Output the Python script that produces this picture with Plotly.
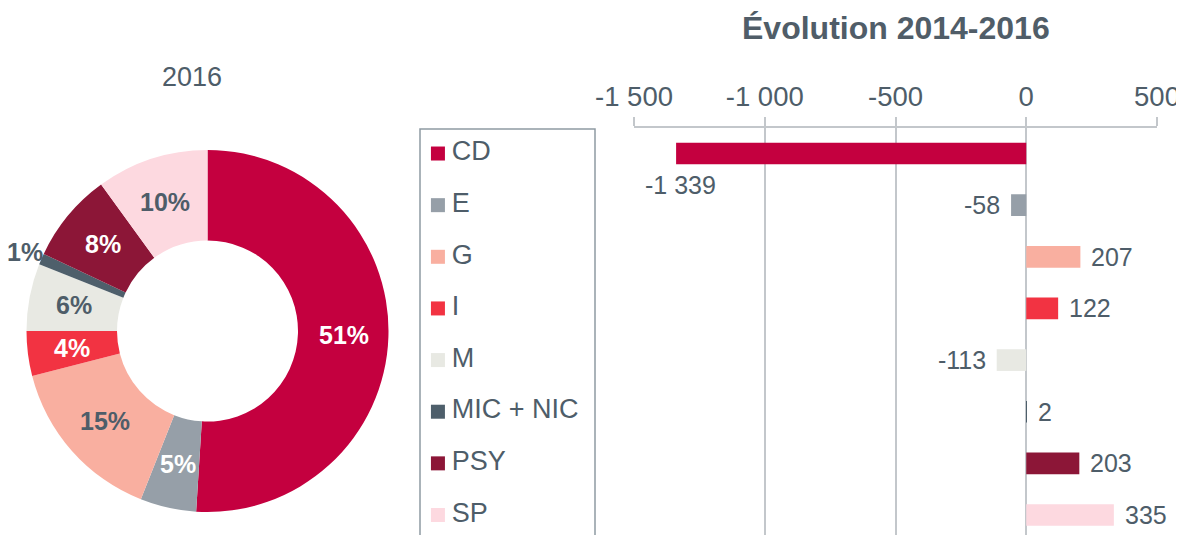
import math
import plotly.graph_objects as go

categories = ["CD", "E", "G", "I", "M", "MIC + NIC", "PSY", "SP"]
share_2016 = [51, 5, 15, 4, 6, 1, 8, 10]
evolution = [-1339, -58, 207, 122, -113, 2, 203, 335]
tick_vals = [-1500, -1000, -500, 0, 500]
tick_text = ["-1 500", "-1 000", "-500", "0", "500"]

colors = ["#C4003F", "#969FA8", "#F9AFA0", "#F23342", "#E8E9E3", "#4E5F6B", "#8C1637", "#FDD9E0"]
pie_text_colors = ["#FFFFFF", "#FFFFFF", "#4E5D69", "#FFFFFF", "#4E5D69", "#4E5D69", "#FFFFFF", "#4E5D69"]
pie_label_outside = [False, False, False, False, False, True, False, False]
TXT = "#4E5D69"
FONT = "Liberation Sans, Arial, sans-serif"

# the page body adds an 8px margin; size the figure so that it ends at the window edge
OFF = 8
W, H = 1184 - OFF, 535 - OFF

def px(x):
    return (x - OFF) / W

def py(y):
    return 1 - (y - OFF) / H

fig = go.Figure()

# donut geometry (screen pixels)
PIE_L, PIE_R, PIE_T, PIE_B = 26, 389, 150, 512
HOLE = 0.5
cx, cy = (PIE_L + PIE_R) / 2, (PIE_T + PIE_B) / 2
r_out = (PIE_R - PIE_L) / 2
r_mid = r_out * (1 + HOLE) / 2

fig.add_trace(go.Pie(
    labels=categories, values=share_2016, sort=False, direction="clockwise", rotation=0,
    hole=HOLE, marker=dict(colors=colors, line=dict(width=0)),
    textinfo="none",
    domain=dict(x=[px(PIE_L), px(PIE_R)], y=[py(PIE_B), py(PIE_T)]),
    showlegend=False, hoverinfo="label+value",
))

total = sum(share_2016)
cum = 0
for v, col, outside in zip(share_2016, pie_text_colors, pie_label_outside):
    theta = math.radians(360 * (cum + v / 2) / total)
    cum += v
    r = r_out + 17 if outside else r_mid
    x = cx + r * math.sin(theta)
    y = cy - r * math.cos(theta)
    fig.add_annotation(x=px(x), y=py(y), xref="paper", yref="paper", text=f"<b>{v}%</b>",
                       showarrow=False, xanchor="center", yanchor="middle",
                       font=dict(family=FONT, size=25, color=col))

# bars
fig.add_trace(go.Bar(
    y=categories, x=evolution, orientation="h", width=0.42,
    marker=dict(color=colors, line=dict(width=0)),
    xaxis="x", yaxis="y", showlegend=False,
))

# legend: markers and texts on their own x axis sharing the category axis
fig.add_trace(go.Scatter(
    x=[0.112] * len(categories), y=categories, mode="markers",
    marker=dict(symbol="square", size=14, color=colors),
    xaxis="x2", yaxis="y", showlegend=False, hoverinfo="skip", cliponaxis=False,
))
fig.add_trace(go.Scatter(
    x=[0.19] * len(categories), y=categories, mode="text",
    text=categories, textposition="middle right",
    textfont=dict(family=FONT, size=27, color=TXT),
    xaxis="x2", yaxis="y", showlegend=False, hoverinfo="skip", cliponaxis=False,
))

# bar labels
for cat, v in zip(categories, evolution):
    label = f"{v:,}".replace(",", " ")
    if v < -1000:
        fig.add_annotation(x=v, y=cat, xref="x", yref="y", text=label, showarrow=False,
                           xanchor="left", xshift=-33, yshift=-31,
                           font=dict(family=FONT, size=25, color=TXT))
    elif v < 0:
        fig.add_annotation(x=v, y=cat, xref="x", yref="y", text=label, showarrow=False,
                           xanchor="right", xshift=-9,
                           font=dict(family=FONT, size=25, color=TXT))
    else:
        fig.add_annotation(x=v, y=cat, xref="x", yref="y", text=label, showarrow=False,
                           xanchor="left", xshift=9,
                           font=dict(family=FONT, size=25, color=TXT))

fig.add_annotation(x=px(896), y=py(28), xref="paper", yref="paper", text="<b>Évolution 2014-2016</b>",
                   showarrow=False, xanchor="center", yanchor="middle",
                   font=dict(family=FONT, size=32, color="#505D68"))
fig.add_annotation(x=px(192), y=py(77), xref="paper", yref="paper", text="2016",
                   showarrow=False, xanchor="center", yanchor="middle",
                   font=dict(family=FONT, size=27, color=TXT))

# legend box
fig.add_shape(type="rect", xref="paper", yref="paper", x0=px(420), x1=px(595), y0=-0.1, y1=py(129),
              line=dict(color="#8E9AA3", width=1.5), fillcolor="rgba(0,0,0,0)", layer="below")

AX_TOP = 127.7      # screen y of the category axis top
CAT_STEP = 51.64    # screen pixels per category
y_bottom = -0.5 + (H + OFF - AX_TOP) / CAT_STEP

fig.update_layout(
    width=W, height=H, margin=dict(l=0, r=0, t=0, b=0, autoexpand=False),
    paper_bgcolor="white", plot_bgcolor="rgba(0,0,0,0)",
    font=dict(family=FONT, color=TXT),
    xaxis=dict(domain=[px(634), px(1157)], range=[-1500, 500], side="top", anchor="y",
               tickvals=tick_vals, ticktext=tick_text, tickfont=dict(size=27.5, color=TXT),
               showgrid=True, gridcolor="#C3C7CB", gridwidth=1.5, zeroline=False,
               showline=True, linecolor="#C3C7CB", linewidth=1.5, automargin=False,
               ticks="outside", ticklen=9, tickcolor="#C3C7CB", tickwidth=1.5),
    xaxis2=dict(domain=[px(418), px(596)], range=[0, 1], anchor="y", visible=False, automargin=False),
    yaxis=dict(domain=[0, py(AX_TOP)], type="category", categoryorder="array", categoryarray=categories,
               range=[y_bottom, -0.5], visible=False, automargin=False),
    bargap=0.58,
)

fig.write_html("out.html")
